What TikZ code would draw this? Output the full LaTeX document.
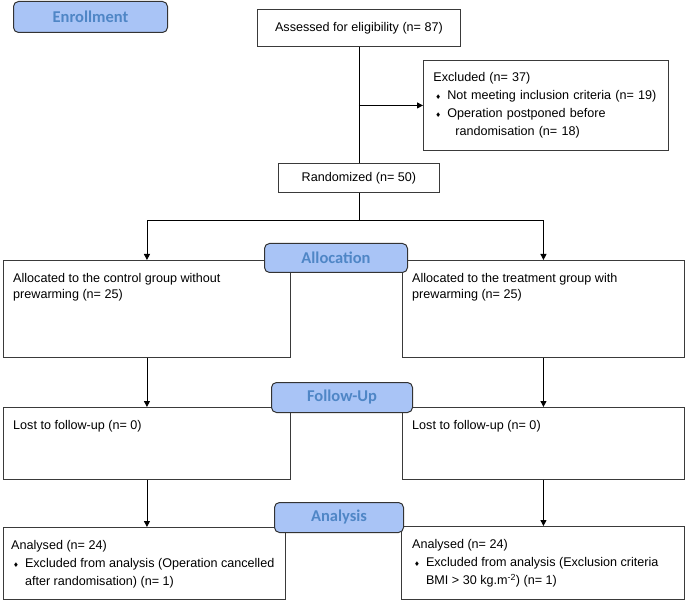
\documentclass[tikz,border=0pt]{standalone}
\usepackage{fontspec}
\setmainfont{Liberation Sans}
\newfontfamily\stagefont{Carlito}
\newfontfamily\symbolfont{DejaVu Sans}
\usetikzlibrary{arrows.meta}
\definecolor{stagefill}{HTML}{A9C4F6}
\definecolor{stageink}{HTML}{4F86C6}
\definecolor{boxline}{HTML}{3A3A3A}
\newcommand{\dmd}{{\symbolfont\fontsize{6.5}{6.5}\selectfont\char"2666}}
\newcommand{\bul}{\hspace*{2pt}\dmd\hspace{6pt}}

\begin{document}
\begin{tikzpicture}[
  x=1pt,
  y=-1pt,
  every node/.style={font=\fontsize{12.6}{18}\selectfont, text=black},
  box/.style={draw=boxline, line width=0.9pt, rectangle, inner sep=0pt,
              anchor=north west},
  boxtext/.style={anchor=north west, inner sep=0pt, align=left},
  stage/.style={draw=black!80, line width=1pt, fill=stagefill,
                rounded corners=5pt, anchor=north west, inner sep=0pt,
                font=\stagefont\bfseries\fontsize{16.5}{18}\selectfont,
                text=stageink},
  link/.style={black, line width=0.9pt},
  arrow/.style={link, -{Triangle[length=6pt, width=6pt]}}
]
  % ---- page frame, as large as the reference -------------------------
  \useasboundingbox (0,0) rectangle (685,601);

  % ---- enrollment --------------------------------------------------------
  \node[box, minimum width=203pt, minimum height=37pt] (assess) at (257,9)
    {Assessed for eligibility (n= 87)};
  \node[box, minimum width=245pt, minimum height=90pt, text width=225pt,
        inner xsep=10pt, align=left] (excl) at (423,60)
    {Excluded (n= 37)\\
     \bul Not meeting inclusion criteria (n= 19)\\
     \bul Operation postponed before\\
     \hspace*{22pt}randomisation (n= 18)};
  \node[box, minimum width=161pt, minimum height=29pt] (rand) at (278,163)
    {Randomized (n= 50)};

  % ---- the two arms, one box for each stage ------------------------------
  \node[box, minimum width=287pt, minimum height=97pt] (ctrl) at (3,260) {};
  \node[box, minimum width=282pt, minimum height=97pt] (treat) at (402,260) {};
  \node[box, minimum width=287pt, minimum height=72pt] (ctrllost) at (3,407) {};
  \node[box, minimum width=282pt, minimum height=72pt] (treatlost) at (402,407) {};
  \node[box, minimum width=282pt, minimum height=72pt] (ctrlana) at (3,527) {};
  \node[box, minimum width=283pt, minimum height=73pt] (treatana) at (401,526) {};

  % ---- their texts, set at the top left ----------------------------------
  \node[boxtext, font=\fontsize{12.6}{15.5}\selectfont] (ctrltext)
    at ([shift={(10,13.5)}]ctrl.north west)
    {Allocated to the control group without\\prewarming (n= 25)};
  \node[boxtext, font=\fontsize{12.6}{15.5}\selectfont] (treattext)
    at ([shift={(10,13.5)}]treat.north west)
    {Allocated to the treatment group with\\prewarming (n= 25)};
  \node[boxtext] (ctrllosttext) at ([shift={(10,13.5)}]ctrllost.north west)
    {Lost to follow-up (n= 0)};
  \node[boxtext] (treatlosttext) at ([shift={(10,13.5)}]treatlost.north west)
    {Lost to follow-up (n= 0)};
  \node[boxtext] (ctrlanatext) at ([shift={(8,13.5)}]ctrlana.north west)
    {Analysed (n= 24)\\
     \bul Excluded from analysis (Operation cancelled\\
     \phantom{\bul}after randomisation) (n= 1)};
  \node[boxtext] (treatanatext) at ([shift={(11,13.5)}]treatana.north west)
    {Analysed (n= 24)\\
     \bul Excluded from analysis (Exclusion criteria\\
     \phantom{\bul}BMI > 30 kg.m\textsuperscript{-2}) (n= 1)};

  % ---- connectors --------------------------------------------------------
  \coordinate (exclfork) at (assess.south |- excl.west);
  \coordinate (split) at ([shift={(0,28)}]rand.south);
  \draw[link] (assess) -- (rand);
  \draw[arrow] (exclfork) -- (excl.west);
  \draw[link] (rand) -- (split);
  \draw[arrow] (split) -| (ctrl.north);
  \draw[arrow] (split) -| (treat.north);
  \draw[arrow] (ctrl) -- (ctrllost);
  \draw[arrow] (treat) -- (treatlost);
  \draw[arrow] (ctrllost.south) -- (ctrllost.south |- ctrlana.north);
  \draw[arrow] (treatlost.south) -- (treatlost.south |- treatana.north);

  % ---- stage labels, laid over the boxes ---------------------------------
  \node[stage, minimum width=154pt, minimum height=31pt] (enrol) at (13,1)
    {Enrollment};
  \node[stage, minimum width=143pt, minimum height=29pt] (alloc) at (264,243)
    {Allocation};
  \node[stage, minimum width=141pt, minimum height=30pt] (follow) at (271,382)
    {Follow-Up};
  \node[stage, minimum width=129pt, minimum height=30pt] (analysis) at (274,502)
    {Analysis};
\end{tikzpicture}
\end{document}
